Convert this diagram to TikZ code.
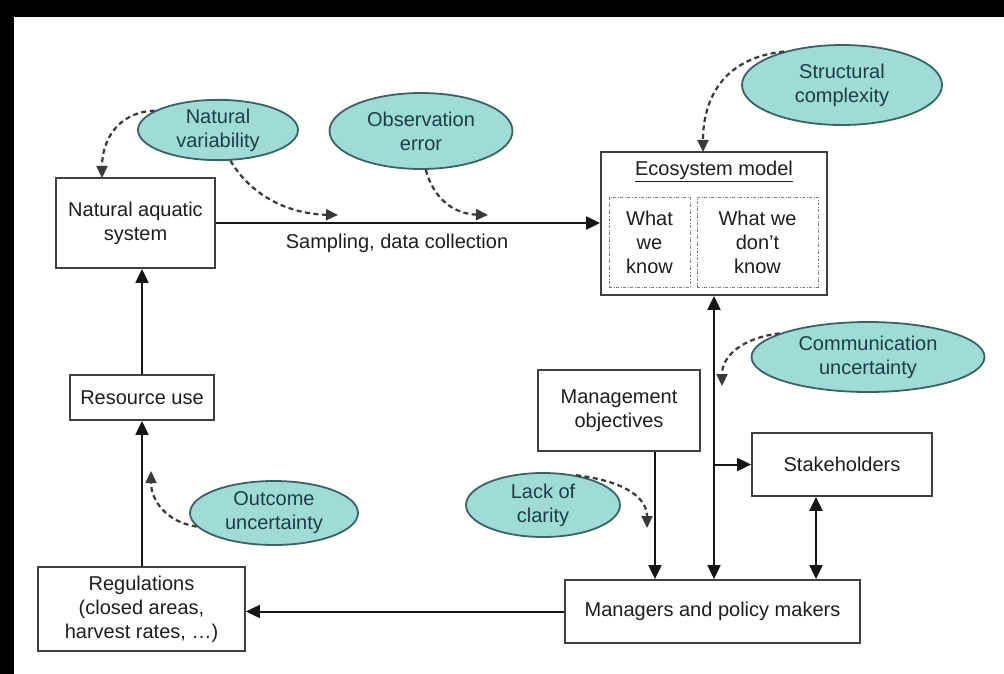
\documentclass[tikz,border=0pt]{standalone}
\usepackage{fontspec}
\setmainfont{Liberation Sans}
\usetikzlibrary{arrows.meta,shapes.geometric}

\definecolor{tealfill}{RGB}{160,220,214}
\definecolor{tealline}{RGB}{58,100,100}
\definecolor{tealtext}{RGB}{28,62,72}
\definecolor{boxline}{RGB}{64,64,64}
\definecolor{inktext}{RGB}{30,30,30}
\definecolor{wirecol}{RGB}{22,22,22}
\definecolor{innerline}{RGB}{125,125,125}

\begin{document}
\begin{tikzpicture}[x=1pt,y=-1pt,
  font=\fontsize{20}{24}\selectfont,
  box/.style={draw=boxline, line width=1.8pt, fill=white, align=center,
    text=inktext, inner sep=0pt},
  inbox/.style={draw=innerline, line width=0.9pt,
    dash pattern=on 3pt off 1.5pt on 1pt off 1.5pt,
    align=center, text=inktext, inner sep=0pt},
  cloud/.style={ellipse, draw=tealline, line width=1.8pt, fill=tealfill,
    align=center, text=tealtext, inner sep=0pt},
  arr/.style={draw=wirecol, line width=2pt,
    -{Triangle[length=14pt,width=13pt]}},
  biarr/.style={draw=wirecol, line width=2pt,
    {Triangle[length=14pt,width=13pt]}-{Triangle[length=14pt,width=13pt]}},
  darr/.style={draw=wirecol!85, line width=2.2pt, dash pattern=on 5pt off 3.5pt,
    -{Triangle[length=12pt,width=11pt]}},
  lbl/.style={text=inktext, inner sep=0pt}
]
% canvas and dark frame strips
\useasboundingbox (0,0) rectangle (1004,674);
\fill[white] (0,0) rectangle (1004,674);
\fill[black] (0,0) rectangle (1004,17);
\fill[black] (0,0) rectangle (14,674);

% boxes
\node[box, minimum width=159pt, minimum height=90pt] (nat) at (135.5,223) {Natural aquatic\\system};
\node[box, minimum width=144pt, minimum height=45pt] (res) at (142,397.5) {Resource use};
\node[box, minimum width=207pt, minimum height=84pt] (reg) at (141.5,609) {Regulations\\(closed areas,\\harvest rates, \dots)};
\node[box, minimum width=226pt, minimum height=143pt] (eco) at (714,223.5) {};
\node[lbl] (ecotitle) at (714,171) {\underline{Ecosystem model}};
\node[inbox, minimum width=81pt, minimum height=90pt] (known) at (649.5,242) {What\\we\\know};
\node[inbox, minimum width=121pt, minimum height=90pt] (unknown) at (757.5,242) {What we\\don't\\know};
\node[box, minimum width=162pt, minimum height=81pt] (mobj) at (619,410.5) {Management\\objectives};
\node[box, minimum width=180pt, minimum height=63pt] (stake) at (842,464.5) {Stakeholders};
\node[box, minimum width=295pt, minimum height=63pt] (mgr) at (712.5,611.5) {Managers and policy makers};

% uncertainty clouds
\node[cloud, minimum width=160pt, minimum height=60pt] (natvar) at (218,130) {Natural\\variability};
\node[cloud, minimum width=183pt, minimum height=76pt] (obs) at (421,131) {Observation\\error};
\node[cloud, minimum width=200pt, minimum height=80pt] (struct) at (842,85) {Structural\\complexity};
\node[cloud, minimum width=233pt, minimum height=70pt] (comm) at (868,357) {Communication\\uncertainty};
\node[cloud, minimum width=154pt, minimum height=64pt] (lack) at (543,505) {Lack of\\clarity};
\node[cloud, minimum width=168pt, minimum height=64pt] (outc) at (274,513) {Outcome\\uncertainty};

% main flow
\draw[arr] (nat.east) -- (nat.east -| eco.west);
\node[lbl, anchor=base] (samp) at (397,248) {Sampling, data collection};
\draw[arr] (res.north) -- (res.north |- nat.south);
\draw[arr] (res.south |- reg.north) -- (res.south);
\draw[arr] (mgr.west) -- (mgr.west -| reg.east);
\draw[arr] ([xshift=36pt]mobj.south) -- ([xshift=36pt]mobj.south |- mgr.north);
\draw[biarr] (eco.south) -- (eco.south |- mgr.north);
\draw[arr] (stake.west -| eco.south) -- (stake.west);
\draw[biarr] ([xshift=-26pt]stake.south) -- ([xshift=-26pt]stake.south |- mgr.north);

% where each uncertainty enters
\coordinate (natin) at (102,178);
\coordinate (sampin) at (338,215);
\coordinate (obsin) at (488,215);
\coordinate (ecoin) at (703,152);
\coordinate (commin) at (722,386);
\coordinate (lackin) at (647,528);
\coordinate (outin) at (151,471);

\draw[darr] (natvar.163) .. controls (118,112) and (102,140) .. (natin);
\draw[darr] (natvar.-68) .. controls (252,197) and (290,214) .. (sampin);
\draw[darr] (obs.-83) .. controls (434,200) and (455,214) .. (obsin);
\draw[darr] (struct.150) .. controls (722,58) and (703,100) .. (ecoin);
\draw[darr] (comm.165) .. controls (742,338) and (722,356) .. (commin);
\draw[darr] (lack.42) .. controls (630,482) and (647,500) .. (lackin);
\draw[darr] (outc.190) .. controls (166,522) and (151,500) .. (outin);
\end{tikzpicture}
\end{document}
